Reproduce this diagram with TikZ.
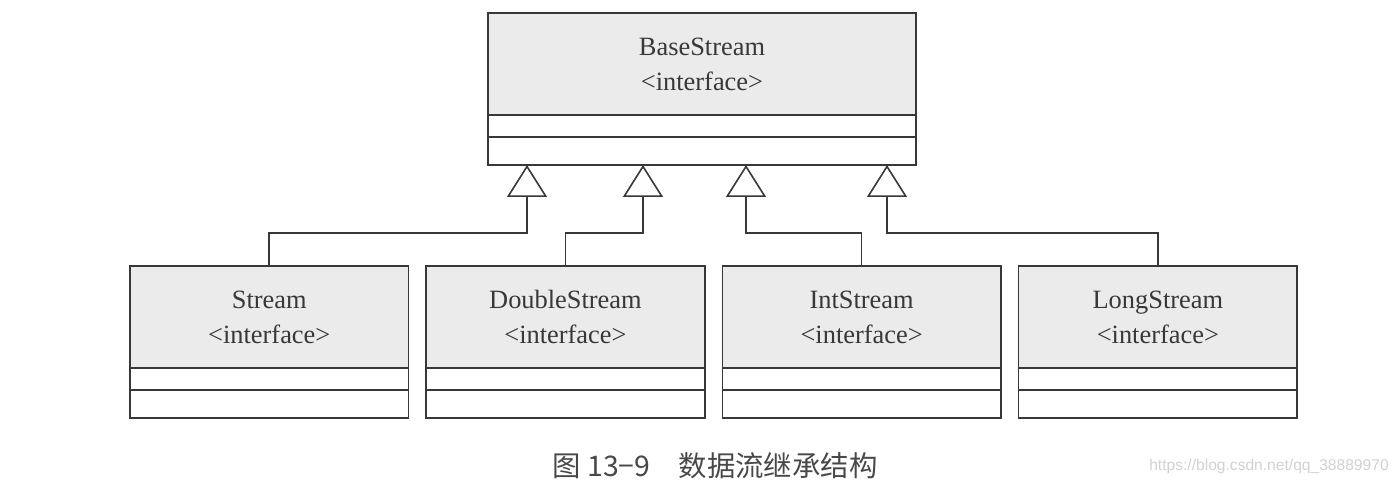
\documentclass[tikz,border=0pt]{standalone}
\usepackage{fontspec}
\setmainfont{Liberation Serif}
\newfontfamily\cjk{Noto Sans CJK SC}
\newfontfamily\urlfont{Liberation Sans}
\usepackage{xcolor}
\usetikzlibrary{arrows.meta,positioning,calc}
\definecolor{umlline}{HTML}{383838}
\definecolor{umlfill}{HTML}{EBEBEB}
\definecolor{captext}{HTML}{484848}

\begin{document}
\begin{tikzpicture}[x=0.5pt, y=0.5pt, node distance=8.85pt, >={Triangle[open,length=16pt,width=20pt]}]
\tikzset{
  box/.style={draw=umlline, line width=0.8pt, outer sep=0pt, inner sep=0pt},
  head/.style={box, fill=umlfill, text=umlline, minimum width=139.25pt, minimum height=51pt, align=center, font=\fontsize{13.2}{17.5}\selectfont},
  bighead/.style={head, minimum width=214pt},
  row/.style={box, fill=white, minimum width=139.25pt, minimum height=11pt},
  lastrow/.style={row, minimum height=14pt},
  bigrow/.style={row, minimum width=214pt},
  biglastrow/.style={lastrow, minimum width=214pt},
  inherit/.style={->, draw=umlline, line width=0.8pt},
}
\useasboundingbox (0,0) rectangle (1399,486);

% Parent interface
\node (basestream) [bighead] at (702,422) {BaseStream\\<interface>};
\node (basestream-f) [bigrow, below=0pt of basestream] {};
\node (basestream-m) [biglastrow, below=0pt of basestream-f] {};

% Child interfaces
\node (stream) [head] at (269.25,169) {Stream\\<interface>};
\node (stream-f) [row, below=0pt of stream] {};
\node (stream-m) [lastrow, below=0pt of stream-f] {};

\node (dstream) [head, right=of stream] {DoubleStream\\<interface>};
\node (dstream-f) [row, below=0pt of dstream] {};
\node (dstream-m) [lastrow, below=0pt of dstream-f] {};

\node (istream) [head, right=of dstream] {IntStream\\<interface>};
\node (istream-f) [row, below=0pt of istream] {};
\node (istream-m) [lastrow, below=0pt of istream-f] {};

\node (lstream) [head, right=of istream] {LongStream\\<interface>};
\node (lstream-f) [row, below=0pt of lstream] {};
\node (lstream-m) [lastrow, below=0pt of lstream-f] {};

% Inheritance arrows
\coordinate (tip1) at ($(basestream-m.south west)+(39,0)$);
\coordinate (tip2) at ($(basestream-m.south west)+(155,0)$);
\coordinate (tip3) at ($(basestream-m.south west)+(258,0)$);
\coordinate (tip4) at ($(basestream-m.south west)+(399,0)$);
\draw[inherit] (stream.north) -- ++(0,33) -| (tip1);
\draw[inherit] (dstream.north) -- ++(0,33) -| (tip2);
\draw[inherit] (istream.north) -- ++(0,33) -| (tip3);
\draw[inherit] (lstream.north) -- ++(0,33) -| (tip4);

% Caption
\node (caption) [font=\cjk\fontsize{14.2}{16}\selectfont, text=captext] at (715,20) {图 13−9\quad 数据流继承结构};
\node (url) [font=\urlfont\fontsize{7.8}{9}\selectfont, text=black!18] at (1269,20) {https://blog.csdn.net/qq\_38889970};

\end{tikzpicture}
\end{document}
